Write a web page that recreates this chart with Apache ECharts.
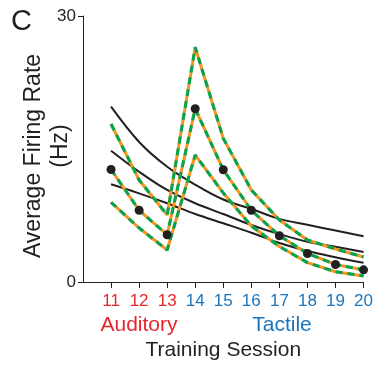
<!DOCTYPE html>
<html>
<head>
<meta charset="utf-8">
<script src="https://cdn.jsdelivr.net/npm/echarts@6/dist/echarts.min.js"></script>
<style>
html,body{margin:0;padding:0;background:#fff;}
#chart{width:376px;height:368px;}
</style>
</head>
<body>
<div id="chart"></div>
<script>
var sessions = [11, 12, 13, 14, 15, 16, 17, 18, 19, 20];
var meanRate  = [12.69, 8.09, 5.33, 19.54, 12.66, 8.09, 5.22, 3.22, 1.98, 1.37];
var upperRate = [17.82, 11.50, 7.56, 26.47, 16.20, 10.38, 6.99, 4.74, 3.72, 2.82];
var lowerRate = [8.99, 6.09, 3.61, 14.32, 10.04, 6.32, 4.00, 2.18, 1.16, 0.68];
var fitHigh = [19.77, 15.79, 13.00, 10.98, 9.30, 8.23, 7.12, 6.45, 5.80, 5.15];
var fitMid  = [14.81, 12.44, 10.38, 8.88, 7.67, 6.43, 5.40, 4.55, 3.98, 3.38];
var fitLow  = [11.02, 10.00, 8.88, 7.67, 6.62, 5.56, 4.40, 3.50, 2.80, 2.16];
var yTicks = [0, 30];
var auditorySessions = [11, 12, 13];

var RED = '#e8262b', BLUE = '#1b75bc', BLACK = '#231f20';
var ORANGE = '#f7941d', GREEN = '#00a651';
var FONT = '"Liberation Sans", Arial, sans-serif';

function pairs(arr) { return sessions.map(function (s, i) { return [s, arr[i]]; }); }

var series = [];
[fitHigh, fitMid, fitLow].forEach(function (d) {
  series.push({ type: 'line', data: pairs(d), smooth: 0.35, symbol: 'none',
    lineStyle: { color: BLACK, width: 2 }, z: 2, clip: false });
});
[upperRate, meanRate, lowerRate].forEach(function (d) {
  series.push({ type: 'line', data: pairs(d), symbol: 'none',
    lineStyle: { color: ORANGE, width: 3 }, z: 3, clip: false });
  series.push({ type: 'line', data: pairs(d), symbol: 'none',
    lineStyle: { color: GREEN, width: 3, type: [7, 5] }, z: 4, clip: false });
});
series.push({ type: 'scatter', data: pairs(meanRate), symbolSize: 9,
  itemStyle: { color: BLACK, opacity: 1 }, z: 5, clip: false });

var chart = echarts.init(document.getElementById('chart'), null, { renderer: 'canvas' });
chart.setOption({
  animation: false,
  backgroundColor: '#fff',
  grid: { left: 83, right: 11, top: 16, bottom: 86, containLabel: false },
  xAxis: {
    type: 'value', min: 10, max: 20, interval: 1,
    splitLine: { show: false },
    axisLine: { lineStyle: { color: BLACK, width: 1 } },
    axisTick: { show: true, length: 6, lineStyle: { color: BLACK }, customValues: sessions },
    axisLabel: { customValues: sessions, fontFamily: FONT, fontSize: 17, margin: 11,
      color: function (v) { return auditorySessions.indexOf(Number(v)) >= 0 ? RED : BLUE; } },
    name: 'Training Session', nameLocation: 'middle', nameGap: 58,
    nameTextStyle: { fontFamily: FONT, fontSize: 21, color: BLACK }
  },
  yAxis: {
    type: 'value', min: 0, max: 30, interval: 30,
    splitLine: { show: false },
    axisLine: { show: true, lineStyle: { color: BLACK, width: 1 } },
    axisTick: { show: true, length: 5, lineStyle: { color: BLACK }, customValues: yTicks },
    axisLabel: { customValues: yTicks, fontFamily: FONT, fontSize: 17, color: BLACK, margin: 7 }
  },
  graphic: [
    { type: 'text', left: 11, top: 7, style: { text: 'C', font: '29px ' + FONT, fill: BLACK } },
    { type: 'text', x: 34, y: 156, rotation: Math.PI / 2,
      style: { text: 'Average Firing Rate', font: '23px ' + FONT, fill: BLACK, textAlign: 'center', textVerticalAlign: 'middle' } },
    { type: 'text', x: 61, y: 146, rotation: Math.PI / 2,
      style: { text: '(Hz)', font: '23px ' + FONT, fill: BLACK, textAlign: 'center', textVerticalAlign: 'middle' } },
    { type: 'text', x: 139, y: 325,
      style: { text: 'Auditory', font: '21px ' + FONT, fill: RED, textAlign: 'center', textVerticalAlign: 'middle' } },
    { type: 'text', x: 282, y: 325,
      style: { text: 'Tactile', font: '21px ' + FONT, fill: BLUE, textAlign: 'center', textVerticalAlign: 'middle' } }
  ],
  series: series
});
</script>
</body>
</html>
